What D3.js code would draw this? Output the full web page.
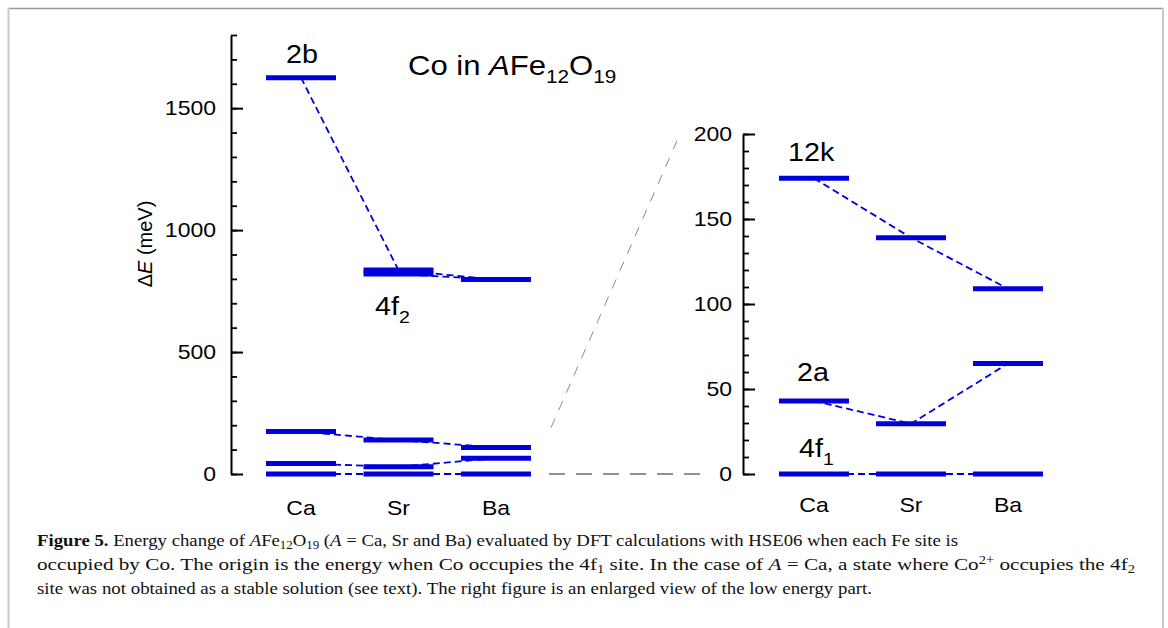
<!DOCTYPE html>
<html>
<head>
<meta charset="utf-8">
<script src="https://cdn.jsdelivr.net/npm/d3@7"></script>
<style>
  body { margin: 0; background: #fff; }
  svg { display: block; }
  .tick text { font-family: "Liberation Sans", Arial, sans-serif; }
</style>
</head>
<body>
<div id="chart"></div>
<script>
const categories = ["Ca", "Sr", "Ba"];

// energies in meV, origin = Co on 4f1
const site2b = [1625, 836, 797];
const site4f2 = [null, 820, 797];
const site12k = [174, 139, 109];
const site2a = [43, 29.6, 65];
const site4f1 = [0, 0, 0];

const leftTicks = [0, 500, 1000, 1500];
const rightTicks = [0, 50, 100, 150, 200];

const width = 1168, height = 628;
const blue = "#0000dc";
const stretch = 1.15;
const sans = "'Liberation Sans', Arial, sans-serif";

const svg = d3.select("#chart").append("svg")
    .attr("width", width)
    .attr("height", height);

// page frame
svg.append("line").attr("x1", 8).attr("x2", 1163).attr("y1", 8.5).attr("y2", 8.5)
    .attr("stroke", "#999").attr("stroke-width", 1.5);
svg.append("line").attr("x1", 8.5).attr("x2", 8.5).attr("y1", 8).attr("y2", height)
    .attr("stroke", "#c8c8c8").attr("stroke-width", 2);
svg.append("line").attr("x1", 1163).attr("x2", 1163).attr("y1", 8).attr("y2", height)
    .attr("stroke", "#c8c8c8").attr("stroke-width", 2);

const yL = d3.scaleLinear().domain([0, 1800]).range([474, 35]);
const yR = d3.scaleLinear().domain([0, 200]).range([474, 134]);
const xL = d3.scalePoint().domain(categories).range([301, 496]);
const xR = d3.scalePoint().domain(categories).range([814, 1008]);
const axL = 231, axR = 743;
const halfBar = 35;

function text(g, x, y, str, size, anchor) {
    return g.append("text")
        .attr("transform", `translate(${x},${y}) scale(${stretch},1)`)
        .attr("text-anchor", anchor || "start")
        .style("font-family", sans)
        .style("font-size", size + "px")
        .text(str);
}

function subLabel(g, x, y, main, sub, size) {
    const t = g.append("text")
        .attr("transform", `translate(${x},${y}) scale(${stretch},1)`)
        .style("font-family", sans)
        .style("font-size", size + "px");
    t.append("tspan").text(main);
    t.append("tspan").attr("dy", size * 0.3).style("font-size", (size * 0.68) + "px").text(sub);
    return t;
}

function drawAxis(y, x0, majors, minorStep, pad) {
    const g = svg.append("g").attr("transform", `translate(${x0},0)`);
    g.append("g")
        .call(d3.axisLeft(y).tickValues(d3.range(0, y.domain()[1] + 1, minorStep))
            .tickSizeInner(-6).tickSizeOuter(0).tickFormat(""))
        .call(a => a.selectAll("line").attr("stroke-width", 1.8))
        .call(a => a.select(".domain").attr("stroke-width", 2));
    g.append("g")
        .call(d3.axisLeft(y).tickValues(majors).tickSizeInner(-12).tickSizeOuter(0)
            .tickPadding(pad).tickFormat(d3.format("d")))
        .call(a => a.select(".domain").remove())
        .call(a => a.selectAll("line").attr("stroke-width", 2))
        .call(a => a.selectAll("text")
            .style("font-size", "20px")
            .attr("transform", `scale(${stretch},1)`)
            .attr("x", -pad / stretch));
}

function drawSeries(values, x, y) {
    const pts = categories.map((c, i) => ({ c: c, v: values[i] }));
    const line = d3.line()
        .defined(d => d.v !== null)
        .x(d => x(d.c))
        .y(d => y(d.v));
    svg.append("path")
        .datum(pts)
        .attr("d", line)
        .attr("fill", "none")
        .attr("stroke", blue)
        .attr("stroke-width", 1.8)
        .attr("stroke-dasharray", "7,4");
    return pts.filter(d => d.v !== null);
}

function drawBars(pts, x, y) {
    svg.append("g").selectAll("line")
        .data(pts)
        .join("line")
        .attr("x1", d => x(d.c) - halfBar)
        .attr("x2", d => x(d.c) + halfBar)
        .attr("y1", d => y(d.v))
        .attr("y2", d => y(d.v))
        .attr("stroke", blue)
        .attr("stroke-width", 5);
}

// left panel: full energy range
const leftSeries = [site2b, site4f2, site12k, site2a, site4f1];
const leftPts = leftSeries.map(s => drawSeries(s, xL, yL));
leftPts.forEach(p => drawBars(p, xL, yL));
drawAxis(yL, axL, leftTicks, 100, 15);

// right panel: low energy part
const rightSeries = [site12k, site2a, site4f1];
const rightPts = rightSeries.map(s => drawSeries(s, xR, yR));
rightPts.forEach(p => drawBars(p, xR, yR));
drawAxis(yR, axR, rightTicks, 10, 11);

// zoom guide lines between panels
svg.append("line")
    .attr("x1", xL("Ba") + 55).attr("y1", yL(190))
    .attr("x2", axR - 66).attr("y2", yR(196))
    .attr("stroke", "#8a8a8a").attr("stroke-width", 1)
    .attr("stroke-dasharray", "10,9");
svg.append("line")
    .attr("x1", xL("Ba") + 53).attr("y1", yL(0))
    .attr("x2", axR - 41).attr("y2", yR(0))
    .attr("stroke", "#222").attr("stroke-width", 1.2)
    .attr("stroke-dasharray", "16,11");

// category labels
categories.forEach(c => {
    text(svg, xL(c), 515, c, 20, "middle");
    text(svg, xR(c), 512, c, 20, "middle");
});

// y axis title
const yt = svg.append("text")
    .attr("transform", "translate(152,244) rotate(-90)")
    .attr("text-anchor", "middle")
    .style("font-family", sans)
    .style("font-size", "20px");
yt.append("tspan").text("Δ");
yt.append("tspan").style("font-style", "italic").text("E");
yt.append("tspan").text(" (meV)");

// site labels
text(svg, xL("Ca") + 1, 63, "2b", 25, "middle");
subLabel(svg, 375, 315, "4f", "2", 25);
text(svg, 788, 161, "12k", 25);
text(svg, 797, 381, "2a", 25);
subLabel(svg, 799, 457, "4f", "1", 25);

// panel title
const title = svg.append("text")
    .attr("transform", `translate(408,75) scale(${stretch},1)`)
    .style("font-family", sans)
    .style("font-size", "27px");
title.append("tspan").text("Co in ");
title.append("tspan").style("font-style", "italic").text("A");
title.append("tspan").text("Fe");
title.append("tspan").attr("dy", 8).style("font-size", "18px").text("12");
title.append("tspan").attr("dy", -8).text("O");
title.append("tspan").attr("dy", 8).style("font-size", "18px").text("19");

// caption
const serif = "'Liberation Serif', 'Times New Roman', serif";
const capSize = 17.5;
function capLine(y, len, parts) {
    const t = svg.append("text")
        .attr("x", 37).attr("y", y)
        .attr("textLength", len)
        .attr("lengthAdjust", "spacingAndGlyphs")
        .style("font-family", serif)
        .style("font-size", capSize + "px")
        .style("fill", "#111");
    parts.forEach(p => {
        const s = t.append("tspan").text(p.t);
        if (p.b) s.style("font-weight", "bold");
        if (p.i) s.style("font-style", "italic");
        if (p.sub) s.attr("dy", 3).style("font-size", "12px");
        if (p.sup) s.attr("dy", -6).style("font-size", "12px");
        if (p.back) s.attr("dy", p.back);
    });
}
capLine(546, 921, [
    { t: "Figure 5.", b: true },
    { t: " Energy change of " },
    { t: "A", i: true },
    { t: "Fe" },
    { t: "12", sub: true },
    { t: "O", back: -3 },
    { t: "19", sub: true },
    { t: " (", back: -3 },
    { t: "A", i: true },
    { t: " = Ca, Sr and Ba) evaluated by DFT calculations with HSE06 when each Fe site is" }
]);
capLine(570, 1098, [
    { t: "occupied by Co. The origin is the energy when Co occupies the 4f" },
    { t: "1", sub: true },
    { t: " site. In the case of ", back: -3 },
    { t: "A", i: true },
    { t: " = Ca, a state where Co" },
    { t: "2+", sup: true },
    { t: " occupies the 4f", back: 6 },
    { t: "2", sub: true }
]);
capLine(594, 835, [
    { t: "site was not obtained as a stable solution (see text). The right figure is an enlarged view of the low energy part." }
]);
</script>
</body>
</html>
